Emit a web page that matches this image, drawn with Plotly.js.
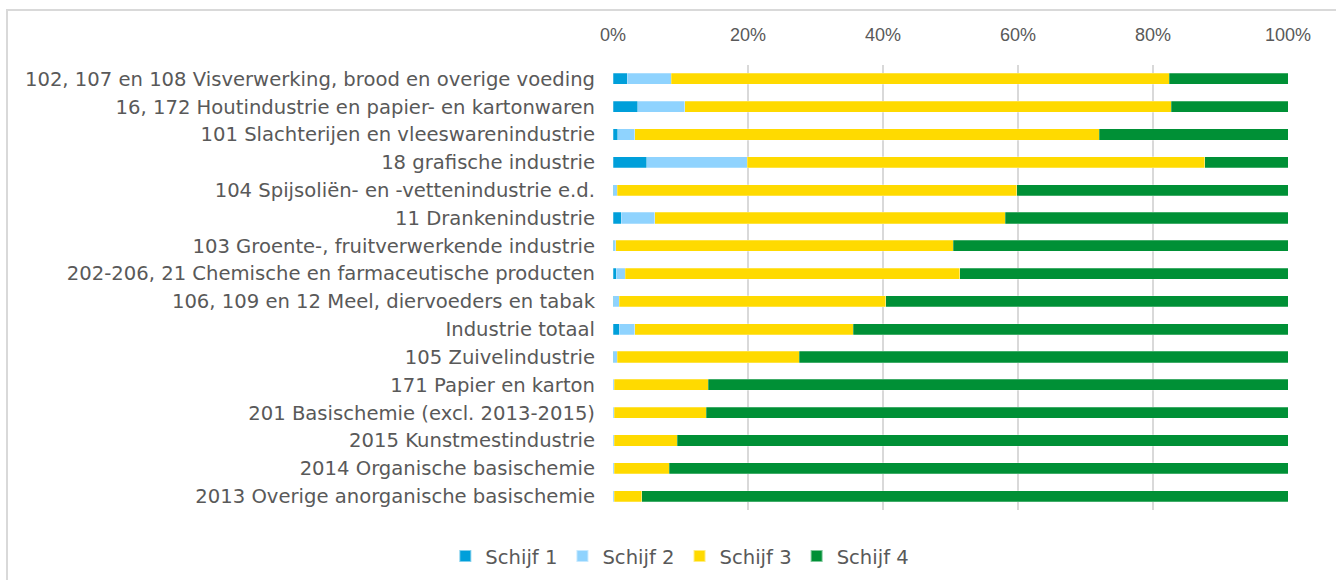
<!DOCTYPE html>
<html>
<head>
<meta charset="utf-8">
<script src="https://cdn.plot.ly/plotly-3.0.1.min.js"></script>
<style>
  html, body { margin: 0; padding: 0; background: #fff; }
  #frame { position: absolute; left: 6px; top: 9px; width: 1340px; height: 600px;
           border-left: 2px solid #d9d9d9; border-top: 2px solid #d9d9d9; }
  #chart { position: absolute; left: 0; top: 0; width: 1336px; height: 580px; }
</style>
</head>
<body>
<div id="frame"></div>
<div id="chart"></div>
<script>
const categories = [
  "102, 107 en 108 Visverwerking, brood en overige voeding",
  "16, 172 Houtindustrie en papier- en kartonwaren",
  "101 Slachterijen en vleeswarenindustrie",
  "18 grafische industrie",
  "104 Spijsoliën- en -vettenindustrie e.d.",
  "11 Drankenindustrie",
  "103 Groente-, fruitverwerkende industrie",
  "202-206, 21 Chemische en farmaceutische producten",
  "106, 109 en 12 Meel, diervoeders en tabak",
  "Industrie totaal",
  "105 Zuivelindustrie",
  "171 Papier en karton",
  "201 Basischemie (excl. 2013-2015)",
  "2015 Kunstmestindustrie",
  "2014 Organische basischemie",
  "2013 Overige anorganische basischemie"
];
const schijf1 = [2.1, 3.7, 0.7, 5.0, 0.1, 1.2, 0.1, 0.45, 0.1, 0.9, 0.1, 0.05, 0.05, 0.05, 0.05, 0.05];
const schijf2 = [6.5, 6.9, 2.5, 14.9, 0.5, 5.0, 0.3, 1.35, 0.8, 2.3, 0.5, 0.15, 0.1, 0.1, 0.1, 0.1];
const schijf3 = [73.8, 72.1, 68.8, 67.8, 59.2, 51.9, 50.0, 49.6, 39.5, 32.4, 27.0, 13.9, 13.65, 9.35, 8.15, 4.1];
const schijf4 = [17.6, 17.3, 28.0, 12.3, 40.2, 41.9, 49.6, 48.6, 59.6, 64.4, 72.4, 85.9, 86.2, 90.5, 91.7, 95.75];
const seriesNames = ["Schijf 1", "Schijf 2", "Schijf 3", "Schijf 4"];
const seriesColors = ["#009FDA", "#8FD3FE", "#FFDA00", "#009036"];
const tickVals = [0, 20, 40, 60, 80, 100];
const tickText = ["0%", "20%", "40%", "60%", "80%", "100%"];

const allSeries = [schijf1, schijf2, schijf3, schijf4];
const traces = allSeries.map((vals, i) => ({
  type: "bar",
  orientation: "h",
  name: seriesNames[i],
  y: categories,
  x: vals,
  marker: { color: seriesColors[i], line: { color: "rgba(255,255,255,0.5)", width: 0.5 } },
  hoverinfo: "x+name"
}));

const font = { family: "DejaVu Sans, Verdana, sans-serif", size: 19.6, color: "#595959" };

const layout = {
  width: 1336, height: 580,
  margin: { l: 613, r: 48, t: 65, b: 70, autoexpand: false },
  paper_bgcolor: "rgba(0,0,0,0)",
  plot_bgcolor: "rgba(0,0,0,0)",
  barmode: "stack",
  bargap: 0.6,
  font: font,
  showlegend: true,
  legend: {
    orientation: "h", x: 0.099, xanchor: "center",
    yref: "container", y: 0.041, yanchor: "middle",
    font: { family: font.family, size: 19.6, color: "#595959" },
    traceorder: "normal", itemwidth: 30, itemsizing: "constant"
  },
  xaxis: {
    side: "top", range: [0, 100], tickvals: tickVals, ticktext: tickText,
    showgrid: true, gridcolor: "#d9d9d9", gridwidth: 1.5,
    zeroline: false, showline: false, ticks: "",
    ticklabelstandoff: 19,
    automargin: false,
    tickfont: { family: "Liberation Sans, Arial, sans-serif", size: 18, color: "#595959" },
    fixedrange: true
  },
  yaxis: {
    autorange: "reversed", type: "category",
    showgrid: false, zeroline: false, showline: false, ticks: "",
    ticklabelstandoff: 17,
    automargin: false,
    tickfont: font,
    fixedrange: true
  }
};

Plotly.newPlot("chart", traces, layout, { displayModeBar: false, staticPlot: true });
</script>
</body>
</html>
